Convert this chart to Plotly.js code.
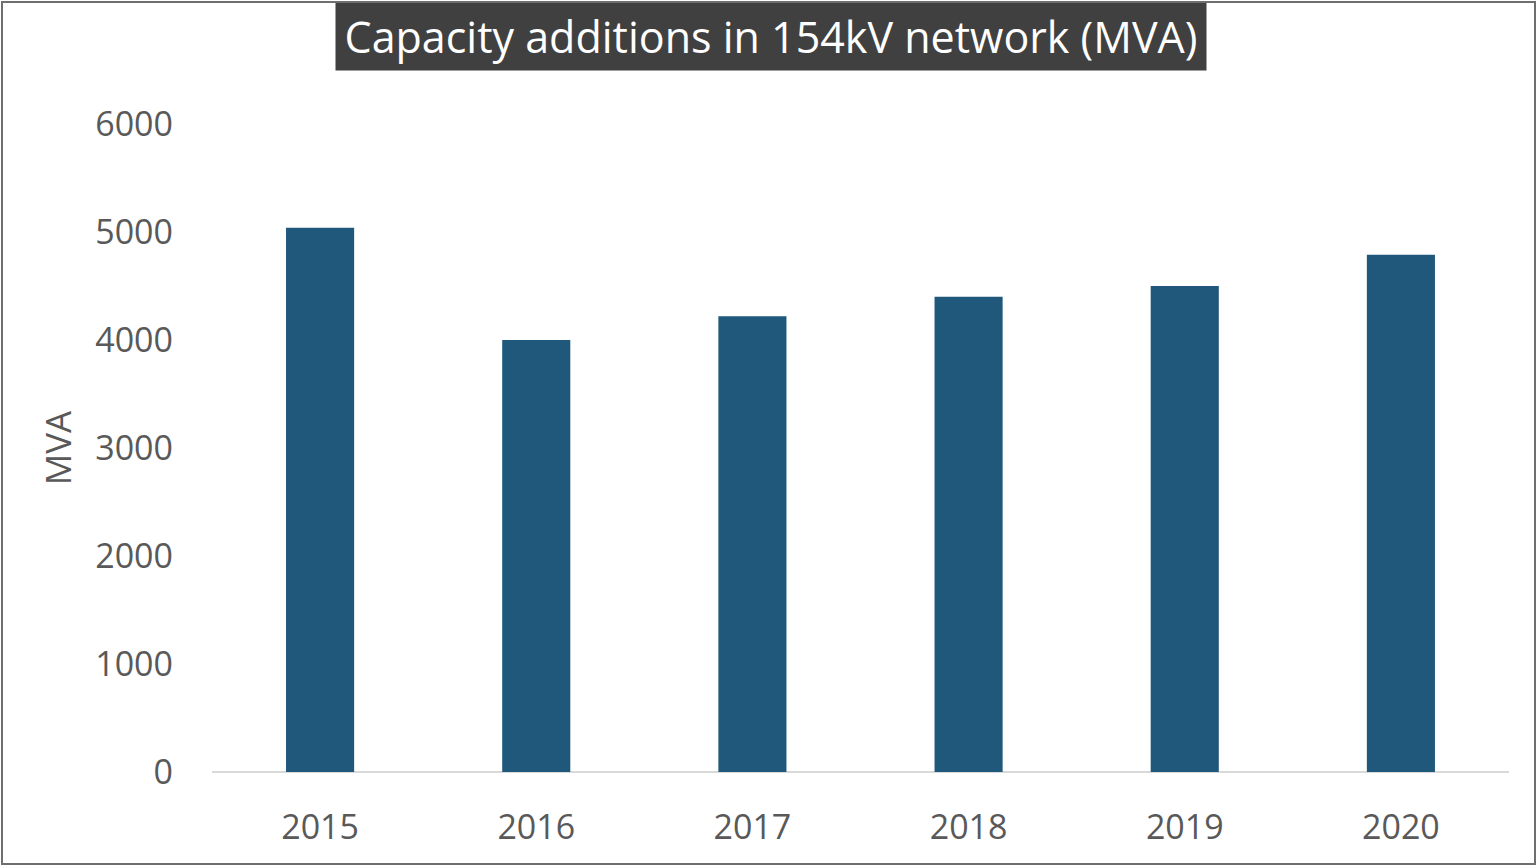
<!DOCTYPE html>
<html>
<head>
<meta charset="utf-8">
<script src="https://cdn.plot.ly/plotly-3.0.1.min.js"></script>
<style>
  html, body { margin: 0; padding: 0; background: #fff; }
  #wrap { position: relative; width: 1537px; height: 866px; }
  #chart { width: 1537px; height: 866px; }
  #frame { position: absolute; left: 1px; top: 1px; width: 1535px; height: 864px;
           border: 2px solid #6f6f6f; box-sizing: border-box; pointer-events: none; }
</style>
</head>
<body>
<div id="wrap">
  <div id="chart"></div>
  <div id="frame"></div>
</div>
<script>
const years = ['2015', '2016', '2017', '2018', '2019', '2020'];
const capacityMVA = [5040, 4000, 4220, 4400, 4500, 4790];
const titleText = 'Capacity additions in 154kV network (MVA)';
const yAxisLabel = 'MVA';
const yTicks = [0, 1000, 2000, 3000, 4000, 5000, 6000];

const trace = {
  type: 'bar',
  x: years,
  y: capacityMVA,
  marker: { color: '#1f587b' },
  hoverinfo: 'x+y'
};

const layout = {
  width: 1537,
  height: 866,
  margin: { l: 212, r: 28, t: 124, b: 94 },
  paper_bgcolor: '#ffffff',
  plot_bgcolor: '#ffffff',
  font: { family: 'Open Sans, Noto Sans, sans-serif', color: '#595959', size: 34 },
  bargap: 0.685,
  showlegend: false,
  xaxis: {
    type: 'category',
    tickfont: { size: 34, color: '#595959' },
    showgrid: false,
    showline: false,
    zeroline: false,
    ticks: '',
    ticklabelstandoff: 32
  },
  yaxis: {
    range: [0, 6000],
    tickvals: yTicks,
    ticktext: yTicks.map(String),
    tickfont: { size: 34, color: '#595959' },
    showgrid: false,
    zeroline: true,
    zerolinecolor: '#d9d9d9',
    zerolinewidth: 2,
    showline: false,
    ticks: '',
    ticklabelstandoff: 38,
    title: { text: yAxisLabel, font: { size: 35, color: '#595959' }, standoff: 12 }
  },
  annotations: [{
    text: titleText,
    xref: 'paper', yref: 'paper',
    x: (771 - 212) / 1297, y: 1 + (124 - 37) / 648,
    xanchor: 'center', yanchor: 'middle',
    showarrow: false,
    bgcolor: '#404040',
    borderpad: 6,
    width: 858,
    height: 55,
    align: 'center',
    font: { size: 43, color: '#ffffff', family: 'Open Sans, Noto Sans, sans-serif' }
  }]
};

Plotly.newPlot('chart', [trace], layout, { displayModeBar: false, staticPlot: true });
</script>
</body>
</html>
